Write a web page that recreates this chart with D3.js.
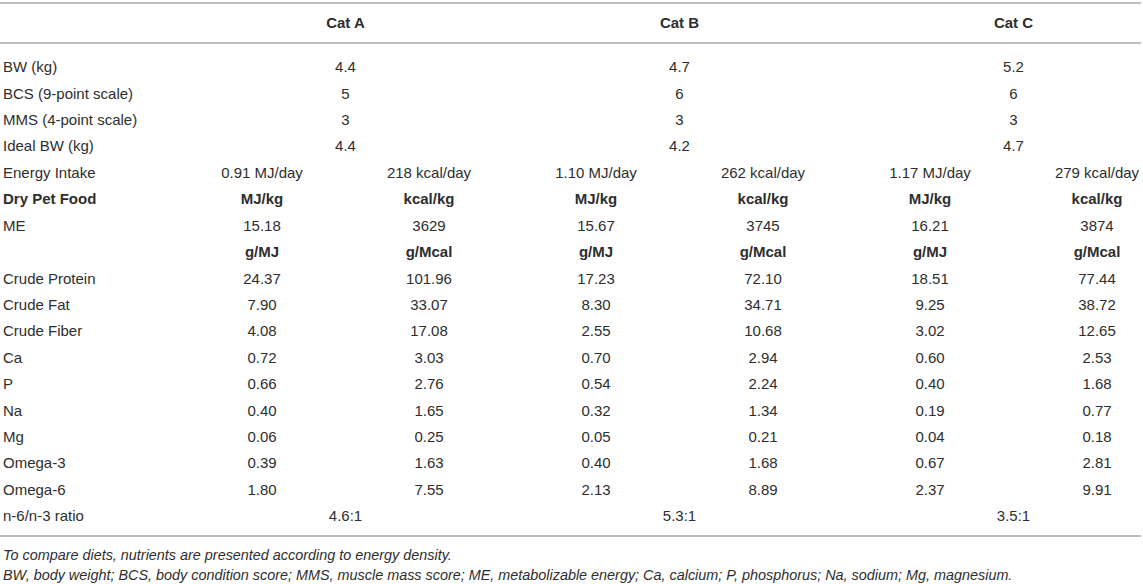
<!DOCTYPE html>
<html>
<head>
<meta charset="utf-8">
<script src="https://cdn.jsdelivr.net/npm/d3@7"></script>
<style>
  body { margin: 0; background: #fff; }
  text { font-family: "Liberation Sans", Arial, Helvetica, sans-serif; fill: #2e2e2e; }
</style>
</head>
<body>
<svg width="1143" height="584"></svg>
<script>
// cat table: body data and energy-density nutrients

var cats = ["Cat A", "Cat B", "Cat C"];
var bw = ["4.4", "4.7", "5.2"];
var bcs = ["5", "6", "6"];
var mms = ["3", "3", "3"];
var idealBw = ["4.4", "4.2", "4.7"];
var energyMJ = ["0.91 MJ/day", "1.10 MJ/day", "1.17 MJ/day"];
var energyKcal = ["218 kcal/day", "262 kcal/day", "279 kcal/day"];
var meMJ = ["15.18", "15.67", "16.21"];
var meKcal = ["3629", "3745", "3874"];

var nutrients = ["Crude Protein", "Crude Fat", "Crude Fiber", "Ca", "P", "Na", "Mg", "Omega-3", "Omega-6"];
// g/MJ per cat, one array per nutrient (A, B, C)
var gPerMJ = [
  ["24.37", "17.23", "18.51"],
  ["7.90", "8.30", "9.25"],
  ["4.08", "2.55", "3.02"],
  ["0.72", "0.70", "0.60"],
  ["0.66", "0.54", "0.40"],
  ["0.40", "0.32", "0.19"],
  ["0.06", "0.05", "0.04"],
  ["0.39", "0.40", "0.67"],
  ["1.80", "2.13", "2.37"]
];
var gPerMcal = [
  ["101.96", "72.10", "77.44"],
  ["33.07", "34.71", "38.72"],
  ["17.08", "10.68", "12.65"],
  ["3.03", "2.94", "2.53"],
  ["2.76", "2.24", "1.68"],
  ["1.65", "1.34", "0.77"],
  ["0.25", "0.21", "0.18"],
  ["1.63", "1.68", "2.81"],
  ["7.55", "8.89", "9.91"]
];
var ratio = ["4.6:1", "5.3:1", "3.5:1"];

var footnotes = [
  "To compare diets, nutrients are presented according to energy density.",
  "BW, body weight; BCS, body condition score; MMS, muscle mass score; ME, metabolizable energy; Ca, calcium; P, phosphorus; Na, sodium; Mg, magnesium."
];

// build rows: label, bold, and either merged (one per cat) or split (two per cat)
var rows = [];
rows.push({label: "BW (kg)", merged: bw});
rows.push({label: "BCS (9-point scale)", merged: bcs});
rows.push({label: "MMS (4-point scale)", merged: mms});
rows.push({label: "Ideal BW (kg)", merged: idealBw});
rows.push({label: "Energy Intake", split: cats.map(function(c, i) { return [energyMJ[i], energyKcal[i]]; })});
rows.push({label: "Dry Pet Food", bold: true, split: cats.map(function() { return ["MJ/kg", "kcal/kg"]; })});
rows.push({label: "ME", split: cats.map(function(c, i) { return [meMJ[i], meKcal[i]]; })});
rows.push({label: "", bold: true, split: cats.map(function() { return ["g/MJ", "g/Mcal"]; })});
nutrients.forEach(function(n, k) {
  rows.push({label: n, split: cats.map(function(c, i) { return [gPerMJ[k][i], gPerMcal[k][i]]; })});
});
rows.push({label: "n-6/n-3 ratio", merged: ratio});

var svg = d3.select("svg"),
    width = +svg.attr("width");

var y = d3.scalePoint()
    .domain(d3.range(rows.length))
    .range([67, 516]);

var subCols = d3.range(cats.length * 2);
var x = d3.scalePoint()
    .domain(subCols)
    .range([262, 1097]);

function catCenter(i) { return (x(i * 2) + x(i * 2 + 1)) / 2; }

var fs = 15;

// rules
svg.append("g").selectAll("line")
  .data([3, 43, 536])
  .enter().append("line")
    .attr("x1", 0).attr("x2", 1141)
    .attr("y1", function(d) { return d; })
    .attr("y2", function(d) { return d; })
    .attr("stroke", "#bdbdbd")
    .attr("stroke-width", 2);

// header
svg.append("g").selectAll("text")
  .data(cats)
  .enter().append("text")
    .attr("x", function(d, i) { return catCenter(i); })
    .attr("y", 23)
    .attr("dy", "0.35em")
    .attr("text-anchor", "middle")
    .attr("font-size", fs)
    .attr("font-weight", "bold")
    .text(function(d) { return d; });

var row = svg.append("g").selectAll("g")
  .data(rows)
  .enter().append("g")
    .attr("transform", function(d, i) { return "translate(0," + y(i) + ")"; })
    .attr("font-weight", function(d) { return d.bold ? "bold" : null; });

row.append("text")
    .attr("x", 3)
    .attr("dy", "0.35em")
    .attr("font-size", fs)
    .text(function(d) { return d.label; });

row.filter(function(d) { return d.merged; })
  .selectAll(".m")
  .data(function(d) { return d.merged; })
  .enter().append("text")
    .attr("class", "m")
    .attr("x", function(d, i) { return catCenter(i); })
    .attr("dy", "0.35em")
    .attr("text-anchor", "middle")
    .attr("font-size", fs)
    .text(function(d) { return d; });

row.filter(function(d) { return d.split; })
  .selectAll(".s")
  .data(function(d) { return [].concat.apply([], d.split); })
  .enter().append("text")
    .attr("class", "s")
    .attr("x", function(d, i) { return x(i); })
    .attr("dy", "0.35em")
    .attr("text-anchor", "middle")
    .attr("font-size", fs)
    .text(function(d) { return d; });

// footnotes
svg.append("g").selectAll("text")
  .data(footnotes)
  .enter().append("text")
    .attr("x", 3)
    .attr("y", function(d, i) { return 555 + i * 20; })
    .attr("dy", "0.35em")
    .attr("font-size", 14.4)
    .attr("font-style", "italic")
    .text(function(d) { return d; });
</script>
</body>
</html>
